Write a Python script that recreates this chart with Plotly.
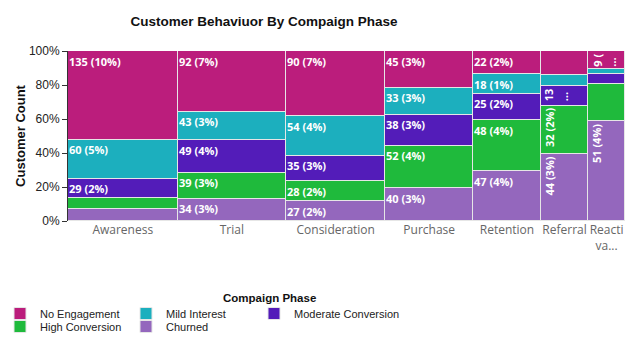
import plotly.graph_objects as go

# ---------------- data ----------------
phases = ["Awareness", "Trial", "Consideration", "Purchase", "Retention", "Referral", "Reactivation"]
tick_labels = ["Awareness", "Trial", "Consideration", "Purchase", "Retention", "Referral", "Reacti<br>va..."]

# stacked bottom -> top
segment_names = ["Churned", "High Conversion", "Moderate Conversion", "Mild Interest", "No Engagement"]
churned = [19, 34, 27, 40, 47, 44, 51]
high_conversion = [16, 39, 28, 52, 48, 32, 19]
moderate_conversion = [29, 49, 35, 38, 25, 13, 5]
mild_interest = [60, 43, 54, 33, 18, 7, 3]
no_engagement = [135, 92, 90, 45, 22, 16, 9]

colors = ["#9467BD", "#1FBA3C", "#531CB9", "#1CAFBE", "#BB1D7C"]
legend_ids = ["legend5", "legend4", "legend3", "legend2", "legend"]
# legend entry placement (left px, top px) for each legend id
legend_pos = {"legend": (0, 299), "legend2": (126, 299), "legend3": (254, 299),
              "legend4": (0, 312), "legend5": (126, 312)}

# labels the original chart does not display, and labels it truncates (chars kept)
hidden_labels = {("Awareness", "High Conversion"), ("Awareness", "Churned"),
                 ("Referral", "No Engagement"), ("Referral", "Mild Interest"),
                 ("Reactivation", "Mild Interest"), ("Reactivation", "Moderate Conversion"),
                 ("Reactivation", "High Conversion")}
truncated_labels = {("Referral", "Moderate Conversion"): 2, ("Reactivation", "No Engagement"): 3}
rotated_phases = {"Referral", "Reactivation"}

series = [churned, high_conversion, moderate_conversion, mild_interest, no_engagement]

# ---------------- derived ----------------
totals = [sum(s[i] for s in series) for i in range(len(phases))]
grand = sum(totals)
starts, acc = [], 0
for t in totals:
    starts.append(acc)
    acc += t
centers = [s + t / 2 for s, t in zip(starts, totals)]

W, H = 640, 352
PLOT_TOP, PLOT_BOTTOM, PLOT_LEFT, PLOT_RIGHT = 51, 221, 68, 625


def paper_y(py):
    return (PLOT_BOTTOM - py) / (PLOT_BOTTOM - PLOT_TOP)


def paper_x(px):
    return (px - PLOT_LEFT) / (PLOT_RIGHT - PLOT_LEFT)


fig = go.Figure()
annotations = []
cum = [0.0] * len(phases)
for name, vals, col, lg in zip(segment_names, series, colors, legend_ids):
    frac = [v / t for v, t in zip(vals, totals)]
    fig.add_trace(go.Bar(
        name=name, x=centers, y=frac, width=totals, legend=lg,
        marker=dict(color=col, line=dict(color="#e6e6e6", width=1)),
        customdata=vals, hovertemplate="%{customdata}<extra>" + name + "</extra>",
    ))
    for i, ph in enumerate(phases):
        top = cum[i] + frac[i]
        if (ph, name) not in hidden_labels:
            txt = f"{vals[i]} ({round(vals[i] / grand * 100)}%)"
            if (ph, name) in truncated_labels:
                txt = txt[:truncated_labels[(ph, name)]] + "<br>…"
            rot = ph in rotated_phases
            annotations.append(dict(
                x=starts[i], y=top, xref="x", yref="y", text=txt, showarrow=False,
                xanchor="left", yanchor="top", align="left",
                textangle=-90 if rot else 0,
                xshift=-1, yshift=-0.5,
                font=dict(family="Open Sans", size=11, color="white", weight="bold"),
            ))
        cum[i] = top

annotations.append(dict(
    text="Compaign Phase", xref="paper", yref="paper",
    x=paper_x(269), y=paper_y(298), xanchor="center", yanchor="middle", showarrow=False,
    font=dict(family="Arial", size=11.5, color="#111", weight="bold"),
))

legend_layout = {}
for lid, (lx, ly) in legend_pos.items():
    legend_layout[lid] = dict(
        orientation="h", xref="paper", yref="container",
        x=paper_x(lx), y=1 - ly / H, xanchor="left", yanchor="top",
        font=dict(family="Arial", size=11, color="#222"),
        bgcolor="rgba(0,0,0,0)", borderwidth=0)

fig.update_layout(
    width=W, height=H,
    barmode="stack", bargap=0,
    paper_bgcolor="white", plot_bgcolor="white",
    margin=dict(l=PLOT_LEFT, r=W - PLOT_RIGHT, t=PLOT_TOP, b=H - PLOT_BOTTOM),
    title=dict(text="Customer Behaviuor By Compaign Phase", x=264 / W, xanchor="center",
               y=1 - 21 / H, yanchor="middle", yref="container",
               font=dict(family="Arial", size=13.5, color="#111", weight="bold")),
    xaxis=dict(range=[0, grand], tickmode="array", tickvals=centers, ticktext=tick_labels,
               showgrid=False, zeroline=False, showline=False, ticks="",
               tickfont=dict(family="Open Sans", size=12, color="#666666")),
    yaxis=dict(range=[0, 1], tickmode="array", tickvals=[0, 0.2, 0.4, 0.6, 0.8, 1.0],
               tickformat=".0%", showgrid=False, zeroline=False,
               showline=True, linecolor="#333", linewidth=1,
               ticks="outside", ticklen=5, tickcolor="#333",
               tickfont=dict(family="Arial", size=12, color="#222"),
               title=dict(text="Customer Count", standoff=0,
                          font=dict(family="Arial", size=13, color="#111", weight="bold"))),
    annotations=annotations,
    showlegend=True,
    **legend_layout,
)

fig.write_html("out.html")
